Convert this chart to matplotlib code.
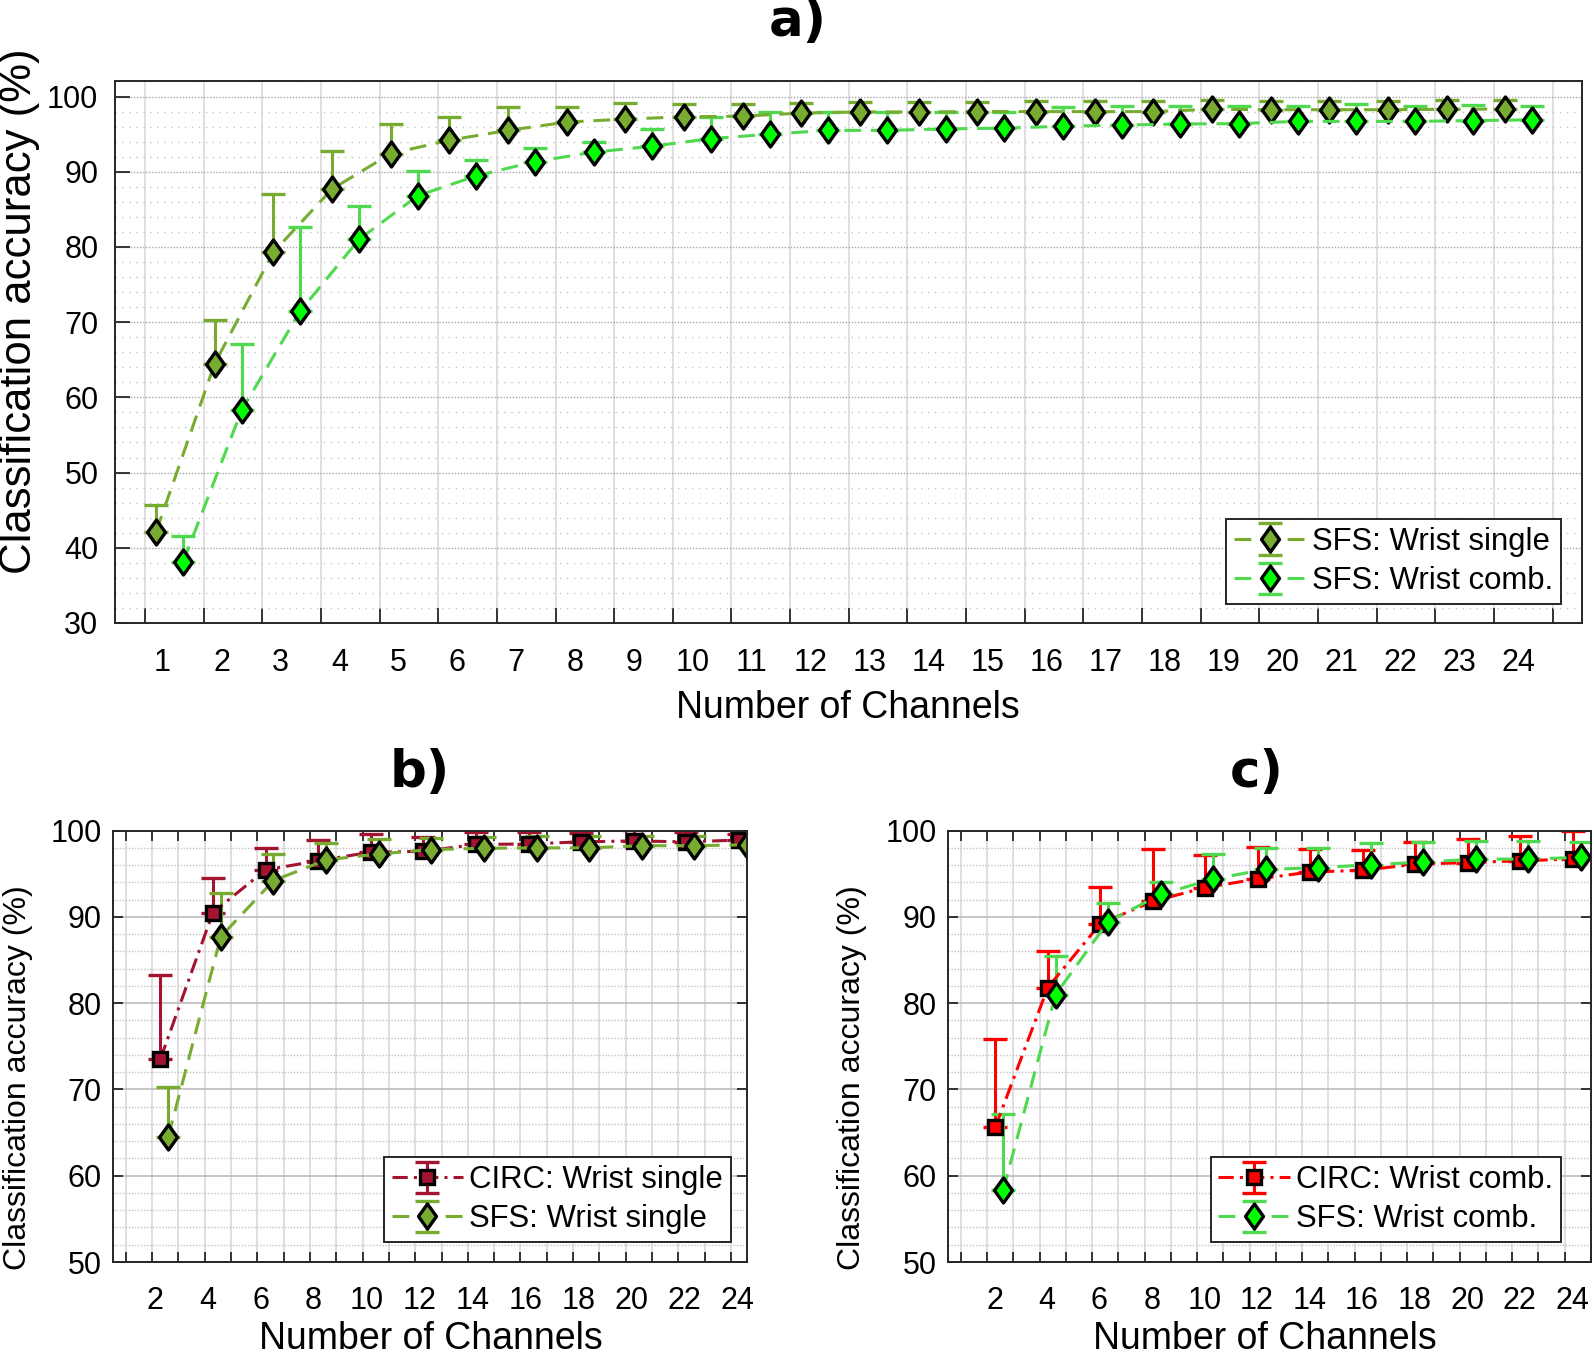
import numpy as np
import matplotlib
matplotlib.use("Agg")
import matplotlib.pyplot as plt
from matplotlib.path import Path
from matplotlib.ticker import MultipleLocator, FixedLocator, FixedFormatter, NullFormatter

# ---------------- data ----------------
channels_a = np.arange(1, 25)
tick_labels_a = [str(n) for n in channels_a]

sfs_single_mean = [42.1, 64.5, 79.3, 87.7, 92.4, 94.2, 95.5, 96.6, 97.0, 97.3, 97.4, 97.8,
                   97.95, 97.95, 98.0, 98.0, 98.0, 98.0, 98.3, 98.25, 98.25, 98.25, 98.3, 98.35]
sfs_single_std = [3.6, 5.8, 7.7, 5.1, 4.0, 3.1, 3.1, 2.0, 2.2, 1.7, 1.55, 1.4,
                  1.35, 1.35, 1.3, 1.4, 1.4, 1.4, 1.2, 1.15, 1.15, 1.15, 1.2, 1.15]
sfs_comb_mean = [38.1, 58.3, 71.5, 81.0, 86.8, 89.45, 91.35, 92.6, 93.4, 94.4, 95.0, 95.5,
                 95.5, 95.7, 95.8, 96.05, 96.2, 96.35, 96.4, 96.7, 96.7, 96.7, 96.8, 96.9]
sfs_comb_std = [3.5, 8.8, 11.2, 4.5, 3.3, 2.15, 1.75, 1.4, 2.3, 2.9, 3.0, 2.5,
                2.5, 2.3, 2.2, 2.55, 2.6, 2.35, 2.3, 2.1, 2.3, 2.1, 2.1, 1.8]

channels_bc = np.arange(2, 25, 2)
tick_labels_bc = [str(n) for n in channels_bc]
circ_single_mean = [73.5, 90.5, 95.45, 96.5, 97.5, 97.6, 98.4, 98.45, 98.7, 98.8, 98.7, 98.9]
circ_single_std = [9.8, 4.0, 2.55, 2.4, 2.1, 1.7, 1.4, 1.35, 1.0, 1.3, 1.1, 0.7]
circ_comb_mean = [65.6, 81.8, 89.2, 91.8, 93.4, 94.4, 95.2, 95.4, 96.1, 96.3, 96.5, 96.7]
circ_comb_std = [10.3, 4.2, 4.3, 6.1, 3.8, 3.75, 2.7, 2.4, 2.55, 2.7, 2.9, 3.2]

# SFS values at the even channel counts (same curves as panel a)
idx_bc = channels_bc - 1
sfs_single_mean_bc = np.array(sfs_single_mean)[idx_bc]
sfs_single_std_bc = np.array(sfs_single_std)[idx_bc]
sfs_comb_mean_bc = np.array(sfs_comb_mean)[idx_bc]
sfs_comb_std_bc = np.array(sfs_comb_std)[idx_bc]

# ---------------- style ----------------
OLIVE = "#77AC30"
LGREEN = "#4FD94F"
LIME = "#00FF00"
DRED = "#A2142F"
RED = "#FF0000"
SPINE = "#262626"
FONT = "Liberation Sans"

plt.rcParams["font.family"] = [FONT, "DejaVu Sans"]

W, H = 1594, 1358
fig = plt.figure(figsize=(W / 100, H / 100), dpi=100)

def ax_rect(l, t, r, b):
    return [l / W, 1 - b / H, (r - l) / W, (b - t) / H]

diamond = Path([(0, -1), (0.72, 0), (0, 1), (-0.72, 0), (0, -1)], closed=True)
DASH = (0, (5.5, 3.2))
DASHDOT = (0, (5.0, 2.0, 1.0, 2.0))

def ebar(ax, x, y, e, color, face, marker, ms, ls, label):
    e = np.asarray(e)
    return ax.errorbar(x, y, yerr=[np.zeros_like(e), e], color=color, ecolor=color,
                       elinewidth=2.2, capsize=8.5, capthick=2.2, linestyle=ls, lw=2.2,
                       marker=marker, markersize=ms, markerfacecolor=face,
                       markeredgecolor="k", markeredgewidth=2.4, label=label)

def style_spines(ax):
    for s in ax.spines.values():
        s.set_color(SPINE)
        s.set_linewidth(1.4)

LEG_KW = dict(loc="lower right", borderaxespad=0, fontsize=22.4, fancybox=False,
              edgecolor=SPINE, framealpha=1, handlelength=2.3, handletextpad=0.2,
              labelspacing=0.3, borderpad=0.25)

# ---------------- panel a ----------------
axa = fig.add_axes(ax_rect(115, 81.5, 1582, 623))
xa_single = channels_a - 0.81
xa_comb = channels_a - 0.35
ebar(axa, xa_single, sfs_single_mean, sfs_single_std, OLIVE, OLIVE, diamond, 18, DASH, "SFS: Wrist single")
ebar(axa, xa_comb, sfs_comb_mean, sfs_comb_std, LGREEN, LIME, diamond, 18, DASH, "SFS: Wrist comb.")
axa.set_xlim(-0.51, 24.5)
axa.set_ylim(30, 102)
axa.xaxis.set_major_locator(FixedLocator(np.arange(0, 25)))
axa.xaxis.set_major_formatter(NullFormatter())
label_pos_a = (channels_a - 1) * 1.0048 + 0.30
axa.xaxis.set_minor_locator(FixedLocator(label_pos_a))
axa.xaxis.set_minor_formatter(FixedFormatter(tick_labels_a))
axa.yaxis.set_major_locator(MultipleLocator(10))
axa.yaxis.set_minor_locator(MultipleLocator(2))
axa.tick_params(which="major", direction="in", length=11, width=1.3, color=SPINE,
                top=False, right=False, labelsize=22, pad=12)
axa.tick_params(which="minor", length=0, labelsize=22, pad=18)
axa.grid(which="major", axis="x", color="#dcdcdc", lw=1.3, ls="-")
axa.grid(which="major", axis="y", color="#a8a8a8", lw=1.0, ls=(0, (1, 1.2)))
axa.grid(which="minor", axis="y", color="#c4c4c4", lw=1.0, ls=(0, (1, 4)))
axa.set_axisbelow(True)
style_spines(axa)
leg = axa.legend(bbox_to_anchor=(0.9857, 0.035), **LEG_KW)
leg.get_frame().set_linewidth(1.4)

# ---------------- panels b and c ----------------
def lower_panel(rect, circ_m, circ_s, circ_col, sfs_m, sfs_s, sfs_col, sfs_face,
                circ_label, sfs_label, xmax, label_pos, leg_anchor):
    ax = fig.add_axes(rect)
    ebar(ax, channels_bc + 0.31, circ_m, circ_s, circ_col, circ_col, "s", 10.5, DASHDOT, circ_label)
    ebar(ax, channels_bc + 0.61, sfs_m, sfs_s, sfs_col, sfs_face, diamond, 18, DASH, sfs_label)
    ax.set_xlim(0.5, xmax)
    ax.set_ylim(50, 100)
    # tick marks + vertical grid at every channel, labels at the even counts
    ax.xaxis.set_major_locator(MultipleLocator(1))
    ax.xaxis.set_major_formatter(NullFormatter())
    ax.xaxis.set_minor_locator(FixedLocator(label_pos))
    ax.xaxis.set_minor_formatter(FixedFormatter(tick_labels_bc))
    ax.yaxis.set_major_locator(MultipleLocator(10))
    ax.yaxis.set_minor_locator(MultipleLocator(2))
    ax.tick_params(which="major", direction="in", length=7, width=1.3, color=SPINE,
                   top=True, right=True, labelsize=22)
    ax.tick_params(axis="y", which="major", pad=8)
    ax.tick_params(which="minor", length=0, labelsize=22)
    ax.tick_params(axis="x", which="minor", pad=17)
    ax.grid(which="major", axis="x", color="#dcdcdc", lw=1.3, ls="-")
    ax.grid(which="major", axis="y", color="#bcbcbc", lw=1.2, ls="-")
    ax.grid(which="minor", axis="y", color="#c4c4c4", lw=1.0, ls=(0, (1, 1.2)))
    ax.set_axisbelow(True)
    style_spines(ax)
    lg = ax.legend(bbox_to_anchor=leg_anchor, **LEG_KW)
    lg.get_frame().set_linewidth(1.4)
    return ax

label_pos_b = channels_bc + 0.09 + (channels_bc - 2) * 0.0073
label_pos_c = channels_bc + 0.28
axb = lower_panel(ax_rect(112.7, 830.6, 746.7, 1262), circ_single_mean, circ_single_std, DRED,
                  sfs_single_mean_bc, sfs_single_std_bc, OLIVE, OLIVE,
                  "CIRC: Wrist single", "SFS: Wrist single", 24.6, label_pos_b, (0.975, 0.046))
axc = lower_panel(ax_rect(947.7, 830.6, 1591, 1262), circ_comb_mean, circ_comb_std, RED,
                  sfs_comb_mean_bc, sfs_comb_std_bc, LGREEN, LIME,
                  "CIRC: Wrist comb.", "SFS: Wrist comb.", 25.0, label_pos_c, (0.9534, 0.046))

# ---------------- titles and axis labels ----------------
def ftext(x, y, s, **kw):
    fig.text(x / W, 1 - y / H, s, ha="center", va="center", **kw)

for (x, y, s) in [(798, 22, "a)"), (420, 773, "b)"), (1257, 773, "c)")]:
    ftext(x, y, s, fontsize=37, fontweight="bold", family="DejaVu Sans")

for (x, y) in [(848, 707.5), (430.5, 1339), (1264.6, 1339)]:
    ftext(x, y, "Number of Channels", fontsize=27)

ftext(20, 311, "Classification accuracy (%)", fontsize=31.5, rotation=90)
ftext(18.3, 1077.6, "Classification accuracy (%)", fontsize=23, rotation=90)
ftext(852, 1077.6, "Classification accuracy (%)", fontsize=23, rotation=90)

fig.savefig("out.png", dpi=100)
